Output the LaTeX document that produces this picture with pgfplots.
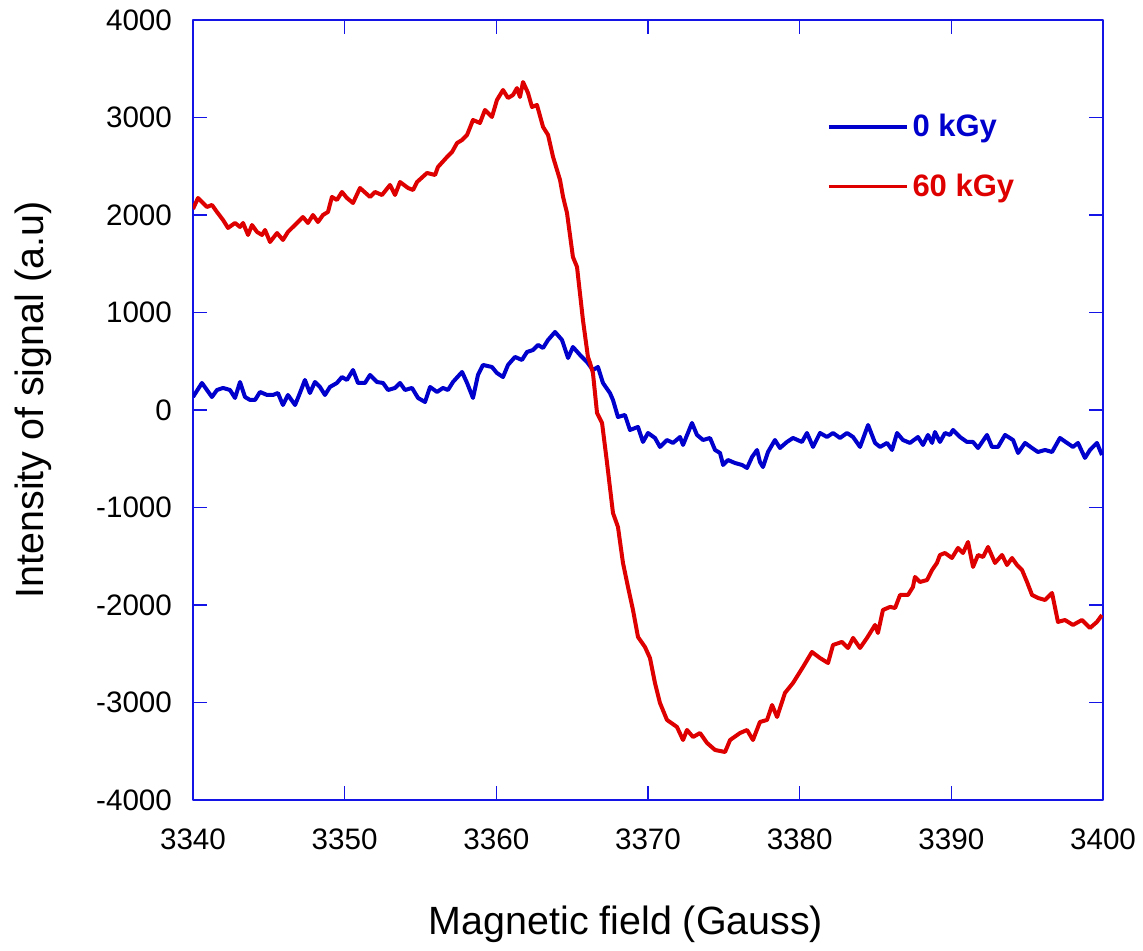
\documentclass[border=0pt]{standalone}
\usepackage{fontspec}
\setmainfont{Liberation Sans}
\usepackage{pgfplots}
\pgfplotsset{compat=1.18}
\definecolor{frameblue}{RGB}{20,20,230}
\definecolor{lineblue}{RGB}{0,0,205}
\definecolor{linered}{RGB}{222,0,0}

\begin{document}
\begin{tikzpicture}
  \begin{axis}[
      scale only axis,
      width=455pt,
      height=390pt,
      xmin=3340, xmax=3400,
      ymin=-4000, ymax=4000,
      xtick={3340,3350,...,3400},
      ytick={-4000,-3000,...,4000},
      /pgf/number format/assume math mode=true,
      /pgf/number format/1000 sep={},
      tick label style={font=\fontsize{14.8}{17}\selectfont},
      xticklabel style={yshift=-11pt},
      yticklabel style={xshift=-7pt},
      label style={font=\fontsize{19.7}{23}\selectfont},
      xlabel={Magnetic field (Gauss)},
      ylabel={Intensity of signal (a.u)},
      xlabel style={at={(rel axis cs:0.5,0)}, anchor=center, yshift=-62pt, xshift=-11pt},
      ylabel style={at={(rel axis cs:0,0.5)}, anchor=center, yshift=80pt, xshift=5pt},
      axis line style={frameblue, line width=0.75pt},
      every tick/.style={frameblue, line width=0.6pt},
      major tick length=7pt,
      tick align=inside,
      legend image code/.code={\draw[#1, line width=1.6pt] (0pt,0pt) -- (39pt,0pt);},
      legend style={draw=none, fill=none, at={(rel axis cs:0.69,0.89)}, anchor=north west,
        font=\fontsize{15.5}{17}\selectfont\bfseries, row sep=13pt, legend cell align=left},
      line join=round,
    ]

    \addplot[lineblue, line width=2pt] coordinates {
      (3340.00,133) (3340.59,277) (3340.92,205) (3341.25,133) (3341.58,205)
      (3341.98,226) (3342.44,205) (3342.77,123) (3343.10,287) (3343.43,133)
      (3343.76,103) (3344.09,103) (3344.42,185) (3344.88,154) (3345.27,154)
      (3345.60,174) (3345.93,51) (3346.26,154) (3346.73,51) (3347.05,174)
      (3347.38,308) (3347.71,174) (3348.04,287) (3348.37,236) (3348.70,154)
      (3349.03,236) (3349.49,277) (3349.82,338) (3350.15,308) (3350.55,410)
      (3350.88,277) (3351.34,277) (3351.67,359) (3352.13,287) (3352.53,277)
      (3352.86,205) (3353.32,226) (3353.65,277) (3353.98,205) (3354.44,226)
      (3354.84,123) (3355.30,82) (3355.63,236) (3356.09,185) (3356.48,226)
      (3356.81,205) (3357.14,287) (3357.74,390) (3358.07,277) (3358.46,123)
      (3358.79,359) (3359.12,462) (3359.71,441) (3360.04,379) (3360.44,338)
      (3360.77,462) (3361.23,544) (3361.69,513) (3362.02,595) (3362.42,615)
      (3362.75,667) (3363.08,636) (3363.41,718) (3363.87,800) (3364.33,718)
      (3364.73,533) (3365.05,646) (3365.52,564) (3365.98,492) (3366.37,410)
      (3366.70,441) (3367.03,277) (3367.49,174) (3367.69,103) (3368.02,-72)
      (3368.48,-51) (3368.81,-205) (3369.34,-174) (3369.67,-328) (3370.00,-236)
      (3370.46,-287) (3370.79,-379) (3371.25,-308) (3371.65,-338) (3372.11,-277)
      (3372.31,-359) (3372.90,-133) (3373.23,-256) (3373.63,-308) (3374.09,-287)
      (3374.42,-410) (3374.75,-441) (3374.95,-564) (3375.27,-513) (3375.74,-544)
      (3376.20,-564) (3376.53,-595) (3376.86,-482) (3377.19,-410) (3377.38,-533)
      (3377.58,-585) (3377.91,-431) (3378.37,-308) (3378.70,-390) (3379.16,-328)
      (3379.56,-287) (3380.15,-328) (3380.48,-236) (3380.88,-379) (3381.34,-236)
      (3381.80,-277) (3382.20,-236) (3382.66,-287) (3383.12,-236) (3383.52,-277)
      (3383.98,-379) (3384.51,-154) (3384.97,-338) (3385.30,-379) (3385.76,-338)
      (3386.09,-410) (3386.42,-236) (3386.81,-308) (3387.27,-338) (3387.80,-277)
      (3388.13,-359) (3388.46,-256) (3388.73,-338) (3388.92,-226) (3389.25,-328)
      (3389.58,-236) (3389.91,-256) (3390.11,-205) (3390.57,-277) (3391.03,-328)
      (3391.43,-328) (3391.76,-390) (3392.35,-256) (3392.68,-379) (3393.08,-379)
      (3393.54,-256) (3394.07,-308) (3394.40,-441) (3394.86,-338) (3395.32,-390)
      (3395.71,-431) (3396.18,-410) (3396.64,-431) (3397.16,-287) (3397.63,-338)
      (3398.02,-379) (3398.35,-338) (3398.81,-492) (3399.14,-410) (3399.60,-338)
      (3399.93,-462)
    };
    \addlegendentry{\textcolor{lineblue}{0 kGy}}

    \addplot[linered, line width=2pt] coordinates {
      (3340.00,2062) (3340.33,2174) (3340.92,2082) (3341.25,2103) (3341.58,2031)
      (3341.98,1949) (3342.31,1867) (3342.77,1918) (3343.10,1877) (3343.30,1918)
      (3343.63,1795) (3343.89,1897) (3344.22,1826) (3344.55,1795) (3344.75,1846)
      (3345.08,1723) (3345.54,1815) (3345.93,1744) (3346.26,1826) (3346.59,1877)
      (3346.92,1928) (3347.25,1979) (3347.58,1918) (3347.91,2000) (3348.24,1928)
      (3348.57,2000) (3348.90,2031) (3349.16,2185) (3349.49,2154) (3349.82,2236)
      (3350.15,2174) (3350.55,2123) (3351.01,2277) (3351.67,2185) (3352.00,2236)
      (3352.46,2205) (3352.99,2308) (3353.32,2205) (3353.65,2338) (3354.18,2277)
      (3354.51,2256) (3354.77,2338) (3355.43,2431) (3355.96,2410) (3356.15,2492)
      (3356.75,2595) (3357.08,2646) (3357.41,2738) (3357.74,2769) (3358.07,2821)
      (3358.46,2974) (3358.92,2944) (3359.25,3077) (3359.71,3005) (3360.04,3179)
      (3360.44,3282) (3360.77,3200) (3361.10,3231) (3361.36,3302) (3361.56,3210)
      (3361.76,3364) (3362.09,3251) (3362.35,3108) (3362.68,3128) (3363.08,2903)
      (3363.41,2821) (3363.74,2595) (3364.20,2359) (3364.40,2185) (3364.66,2020)
      (3365.05,1569) (3365.32,1467) (3365.71,923) (3366.04,544) (3366.18,482)
      (3366.37,379) (3366.64,-31) (3366.97,-133) (3367.30,-544) (3367.69,-1056)
      (3368.02,-1200) (3368.35,-1569) (3368.68,-1815) (3369.01,-2051) (3369.34,-2328)
      (3369.80,-2431) (3370.13,-2544) (3370.46,-2800) (3370.79,-3005) (3371.25,-3179)
      (3371.91,-3251) (3372.31,-3385) (3372.57,-3282) (3372.97,-3354) (3373.43,-3313)
      (3373.89,-3415) (3374.42,-3487) (3375.08,-3508) (3375.41,-3385) (3376.07,-3313)
      (3376.53,-3282) (3376.92,-3385) (3377.38,-3200) (3377.85,-3179) (3378.18,-3026)
      (3378.51,-3149) (3379.03,-2902) (3379.56,-2800) (3380.22,-2636) (3380.81,-2482)
      (3381.34,-2544) (3381.87,-2595) (3382.20,-2410) (3382.79,-2379) (3383.19,-2441)
      (3383.52,-2338) (3383.98,-2441) (3384.44,-2338) (3384.97,-2205) (3385.16,-2287)
      (3385.49,-2051) (3385.96,-2020) (3386.29,-2031) (3386.62,-1897) (3387.14,-1897)
      (3387.47,-1815) (3387.60,-1713) (3387.93,-1764) (3388.40,-1744) (3388.73,-1641)
      (3389.05,-1569) (3389.25,-1487) (3389.58,-1467) (3390.04,-1518) (3390.44,-1415)
      (3390.77,-1467) (3391.10,-1354) (3391.43,-1610) (3391.76,-1487) (3392.09,-1508)
      (3392.42,-1405) (3392.88,-1569) (3393.34,-1487) (3393.67,-1590) (3394.00,-1518)
      (3394.33,-1590) (3394.66,-1641) (3394.99,-1764) (3395.32,-1897) (3395.71,-1928)
      (3396.18,-1949) (3396.64,-1877) (3397.03,-2174) (3397.49,-2154) (3398.02,-2205)
      (3398.61,-2154) (3399.14,-2236) (3399.60,-2174) (3399.93,-2103)
    };
    \addlegendentry{\textcolor{linered}{60 kGy}}

    \coordinate (sw) at (rel axis cs:0,0);
    \coordinate (ne) at (rel axis cs:1,1);
  \end{axis}
  \pgfresetboundingbox
  \path ([xshift=-96.5pt,yshift=-75.5pt]sw) rectangle ([xshift=20pt,yshift=10pt]ne);
\end{tikzpicture}
\end{document}
